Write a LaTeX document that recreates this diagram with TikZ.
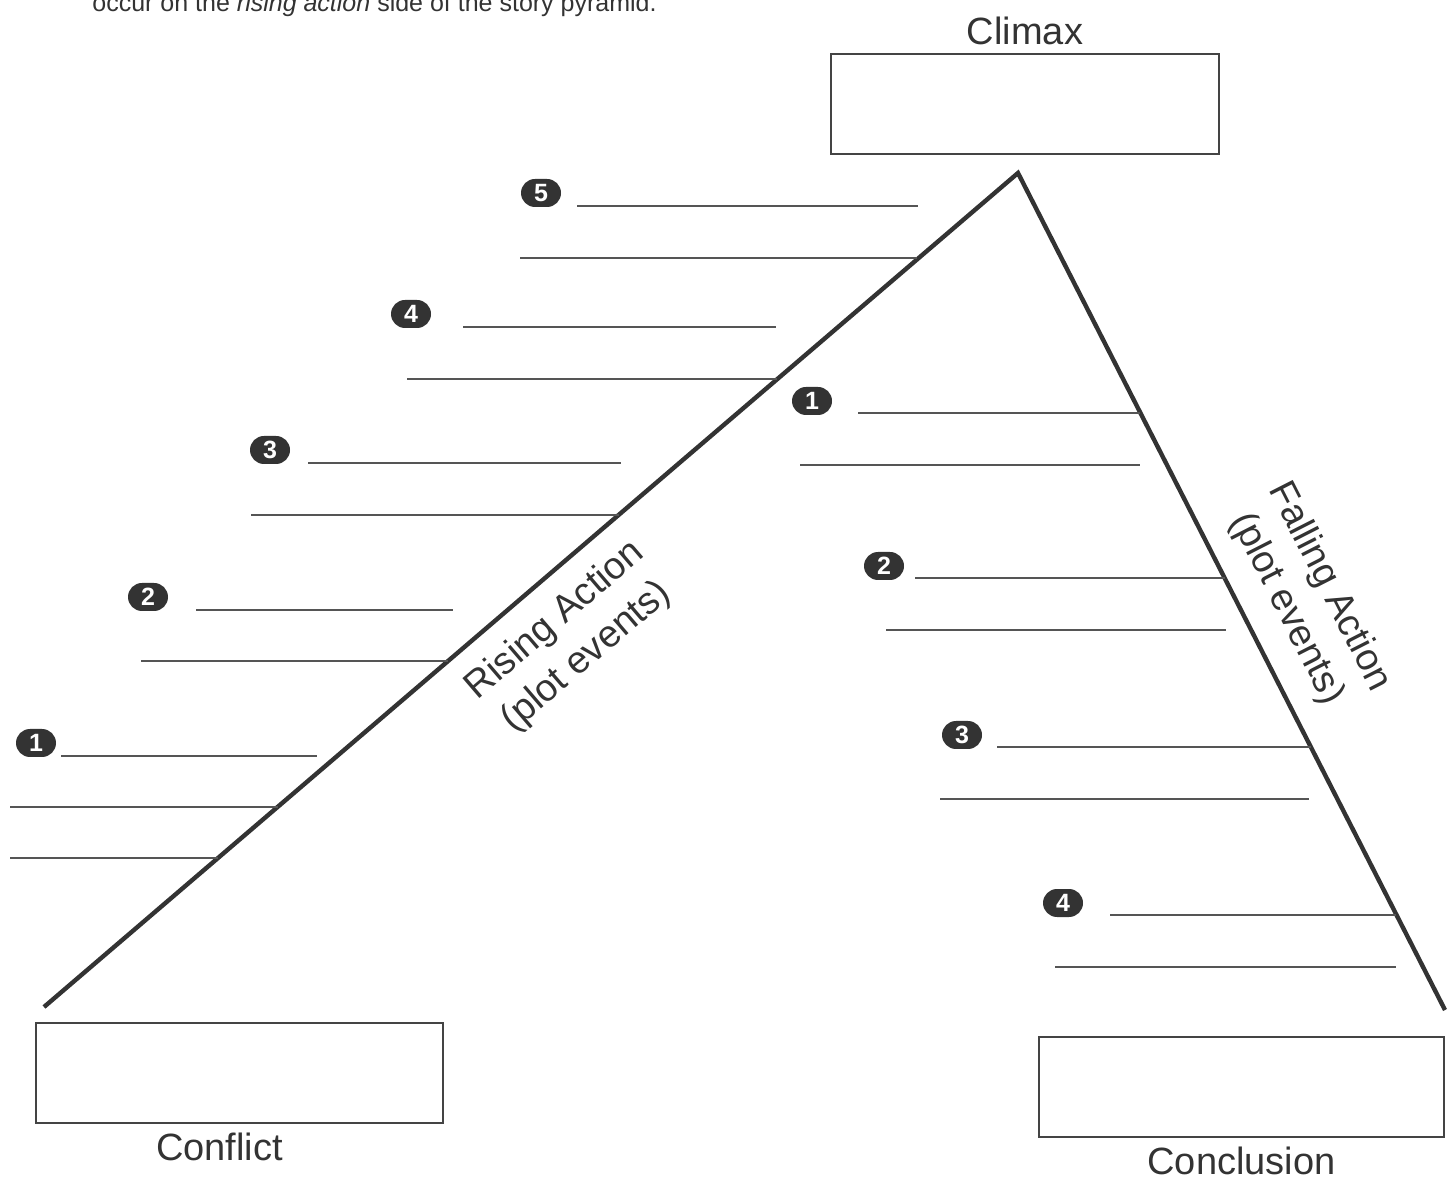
\documentclass[tikz,border=0pt]{standalone}
\usepackage{fontspec}
\setmainfont{Liberation Sans}
\usetikzlibrary{positioning}
\definecolor{inkdark}{HTML}{333333}
\definecolor{inkbox}{HTML}{444444}
\definecolor{rulegray}{HTML}{555555}

\begin{document}
\begin{tikzpicture}[
    x=0.5pt, y=-0.5pt,
    answerbox/.style={draw=inkbox, line width=1pt, minimum width=194pt, minimum height=50pt, inner sep=0pt},
    boxlabel/.style={font=\fontsize{19}{22}\selectfont, text=inkdark},
    sidelabel/.style={font=\fontsize{19}{24}\selectfont, text=inkdark, align=center},
    badge/.style={fill=inkdark, text=white, rounded corners=7pt, minimum width=20pt, minimum height=14pt, inner sep=0pt, font=\fontsize{12.5}{12.5}\selectfont\bfseries},
    blank/.style={draw=rulegray, line width=0.9pt},
    pyramid/.style={draw=inkdark, line width=2.2pt, line join=miter},
]
    \useasboundingbox (0,0) rectangle (1452,1181);

    % --- Instruction text (cut off at top) ---
    \node[anchor=base west, inner sep=0pt, font=\fontsize{12.5}{14}\selectfont, text=inkdark] (intro) at (92,12)
        {occur on the \textit{rising action} side of the story pyramid.};

    % --- Pyramid ---
    \coordinate (apex) at (1018,173);
    \coordinate (baseL) at (44,1007);
    \coordinate (baseR) at (1445,1010);
    \draw[pyramid] (baseL) -- (apex) -- (baseR);

    % --- Boxes ---
    \node[answerbox] (climax) at (1025,104.5) {};
    \node[boxlabel, above=1pt of climax] (climaxlbl) {Climax};
    \node[answerbox, minimum width=203.5pt] (conflict) at (239.5,1072.5) {};
    \node[boxlabel, below=1pt of conflict, xshift=-10pt] (conflictlbl) {Conflict};
    \node[answerbox, minimum width=202.5pt] (conclusion) at (1241.5,1086.5) {};
    \node[boxlabel, below=1pt of conclusion] (conclusionlbl) {Conclusion};

    % --- Side labels ---
    \node[sidelabel, rotate=40.6] (rising) at (571,639) {Rising Action\\(plot events)};
    \node[sidelabel, rotate=-63] (falling) at (1308,598) {Falling Action\\(plot events)};

    % --- Rising action events ---
    \node[badge] (r5) at (541,193) {5};
    \node[badge] (r4) at (411,314) {4};
    \node[badge] (r3) at (270,450) {3};
    \node[badge] (r2) at (148,597) {2};
    \node[badge] (r1) at (36,743) {1};
    \foreach \y/\xa/\xb in {206/577/918, 258/520/917, 327/463/776, 379/407/777,
                             463/308/621, 515/251/619, 610/196/453, 661/141/448,
                             756/61/317, 807/10/278, 858/10/218}
        \draw[blank] (\xa,\y) -- (\xb,\y);

    % --- Falling action events ---
    \node[badge] (f1) at (812,401) {1};
    \node[badge] (f2) at (884,566) {2};
    \node[badge] (f3) at (962,735) {3};
    \node[badge] (f4) at (1063,903) {4};
    \foreach \y/\xa/\xb in {413/858/1140, 465/800/1140, 578/915/1225, 630/886/1226,
                             747/997/1311, 799/940/1309, 915/1110/1396, 967/1055/1396}
        \draw[blank] (\xa,\y) -- (\xb,\y);

\end{tikzpicture}
\end{document}
